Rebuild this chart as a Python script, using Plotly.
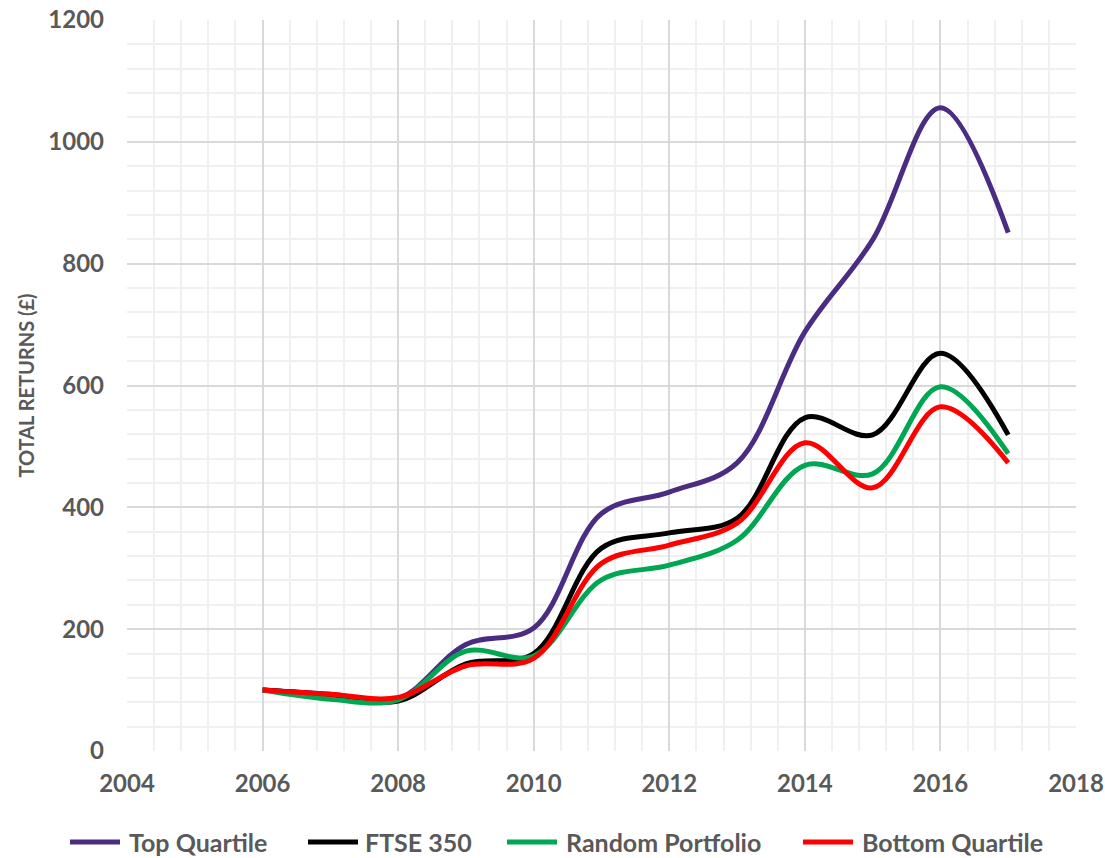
import plotly.graph_objects as go

# Annual total returns on a £100 investment
years = [2006, 2007, 2008, 2009, 2010, 2011, 2012, 2013, 2014, 2015, 2016, 2017]
top_quartile = [100, 93, 86, 175, 202, 390, 425, 473, 688, 839, 1056, 851]
ftse_350 = [100, 92, 82, 143, 160, 333, 358, 382, 547, 519, 653, 519]
random_portfolio = [100, 85, 84, 164, 156, 281, 305, 346, 469, 455, 598, 488]
bottom_quartile = [100, 93, 88, 140, 152, 308, 338, 374, 506, 432, 565, 473]

series = [
    ("Top Quartile", top_quartile, "#4B2C83"),
    ("FTSE 350", ftse_350, "#000000"),
    ("Random Portfolio", random_portfolio, "#00A651"),
    ("Bottom Quartile", bottom_quartile, "#FF0000"),
]

FONT = "Lato"
TXT = "#595959"

# plot area in pixels
W, H = 1105, 858
L, R, T, B = 127, 29, 20, 107
PW, PH = W - L - R, H - T - B

fig = go.Figure()
for name, vals, color in series:
    fig.add_trace(go.Scatter(
        x=years, y=vals, name=name, mode="lines",
        line=dict(color=color, width=5, shape="spline", smoothing=1.0),
        showlegend=False,
    ))

# legend row below the plot: swatch start and text start (pixels)
legend_slots = [(70, 127), (308, 363), (507, 564), (803, 860)]
legend_y = -(842 - (H - B)) / PH
for (name, _, color), (sx, tx) in zip(series, legend_slots):
    fig.add_shape(
        type="line", xref="paper", yref="paper",
        x0=(sx - L) / PW, x1=(sx + 50 - L) / PW, y0=legend_y, y1=legend_y,
        line=dict(color=color, width=5),
    )
    fig.add_annotation(
        text=name, xref="paper", yref="paper", x=(tx - L) / PW, y=legend_y,
        xanchor="left", yanchor="middle", showarrow=False,
        font=dict(family=FONT, size=25, color=TXT, weight="bold"),
    )

fig.update_layout(
    width=W, height=H,
    margin=dict(l=L, r=R, t=T, b=B, autoexpand=False),
    paper_bgcolor="white", plot_bgcolor="white",
    font=dict(family=FONT, color=TXT),
    showlegend=False,
    xaxis=dict(
        range=[2004, 2018], dtick=2, tick0=2004,
        showgrid=True, gridcolor="#D9D9D9", gridwidth=1.5,
        minor=dict(dtick=0.4, showgrid=True, gridcolor="#F0F0F0", gridwidth=1.5),
        zeroline=False, showline=False, ticks="",
        ticklabelstandoff=16,
        tickfont=dict(family=FONT, size=24, color=TXT, weight="bold"),
        automargin=False,
        fixedrange=True,
    ),
    yaxis=dict(
        range=[0, 1200], dtick=200, tick0=0,
        showgrid=True, gridcolor="#D9D9D9", gridwidth=1.5,
        minor=dict(dtick=40, showgrid=True, gridcolor="#F0F0F0", gridwidth=1.5),
        zeroline=False, showline=False, ticks="",
        ticklabelstandoff=22,
        tickfont=dict(family=FONT, size=24, color=TXT, weight="bold"),
        title=dict(text="TOTAL RETURNS (£)", standoff=8,
                   font=dict(family=FONT, size=20, color=TXT, weight="bold")),
        automargin=False,
        fixedrange=True,
    ),
)

fig.write_html("out.html")
